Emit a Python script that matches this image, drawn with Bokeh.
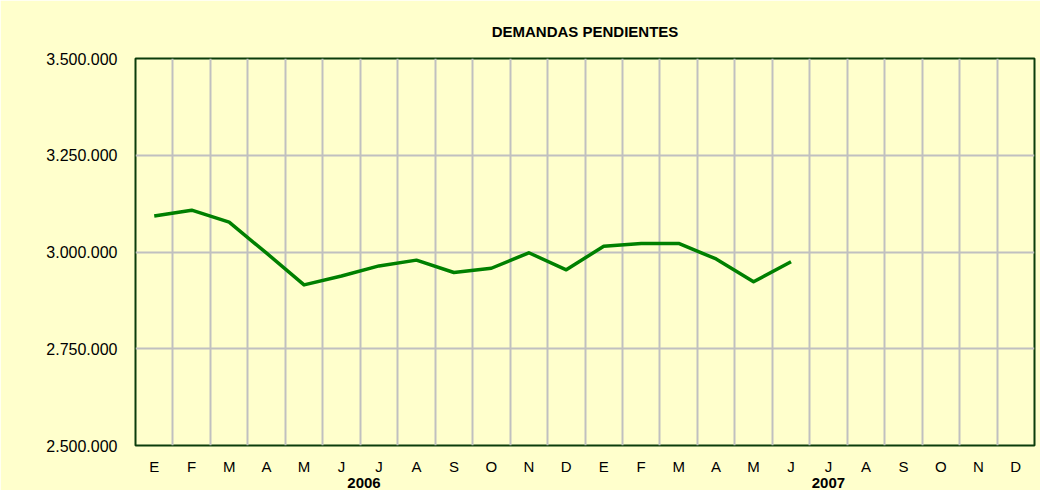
from bokeh.plotting import figure
from bokeh.models import FixedTicker, LinearAxis, Range1d
from bokeh.embed import file_html
from bokeh.resources import INLINE

# ---- data ----
month_labels = ["E", "F", "M", "A", "M", "J", "J", "A", "S", "O", "N", "D",
                "E", "F", "M", "A", "M", "J", "J", "A", "S", "O", "N", "D"]
year_labels = ["2006", "2007"]
pendientes = [3093000, 3108000, 3077000, 2997000, 2915000, 2938000,
              2964000, 2979000, 2947000, 2958000, 2998000, 2954000,
              3015000, 3022000, 3022000, 2982000, 2923000, 2975000]
y_ticks = [2500000, 2750000, 3000000, 3250000, 3500000]
y_tick_labels = ["2.500.000", "2.750.000", "3.000.000", "3.250.000", "3.500.000"]
title_text = "DEMANDAS PENDIENTES"

FONT = "Liberation Sans"
BG = "#FFFFCC"

x_idx = list(range(len(pendientes)))

p = figure(width=1040, height=490, output_backend="svg", toolbar_location=None,
           x_range=Range1d(-0.5, len(month_labels) - 0.5),
           y_range=Range1d(y_ticks[0], y_ticks[-1]),
           min_border_left=135, min_border_right=6,
           min_border_top=58, min_border_bottom=44,
           title=title_text)

p.background_fill_color = BG
p.border_fill_color = BG
p.outline_line_color = "#0B3D0B"
p.outline_line_width = 2

p.title.align = "center"
p.title.text_font = FONT
p.title.text_font_size = "15px"
p.title.text_font_style = "bold"
p.title.text_color = "#000000"
p.title.standoff = 38

def style_axis(ax, size, standoff, bold=False):
    ax.axis_line_color = None
    ax.major_tick_line_color = None
    ax.minor_tick_line_color = None
    ax.major_tick_out = 0
    ax.major_tick_in = 0
    ax.minor_tick_out = 0
    ax.minor_tick_in = 0
    ax.major_label_standoff = standoff
    ax.major_label_text_font = FONT
    ax.major_label_text_font_size = size
    ax.major_label_text_color = "#000000"
    if bold:
        ax.major_label_text_font_style = "bold"

# x axis (months)
xa = p.xaxis[0]
xa.ticker = FixedTicker(ticks=list(range(len(month_labels))))
xa.major_label_overrides = {i: lab for i, lab in enumerate(month_labels)}
style_axis(xa, "15px", 12)

# year axis below
ya2 = LinearAxis(ticker=FixedTicker(ticks=[5.6, 18.0]),
                 major_label_overrides={5.6: year_labels[0], 18.0: year_labels[1]})
style_axis(ya2, "15px", 0, bold=True)
p.add_layout(ya2, "below")

# y axis
ya = p.yaxis[0]
ya.ticker = FixedTicker(ticks=y_ticks)
ya.major_label_overrides = {t: l for t, l in zip(y_ticks, y_tick_labels)}
style_axis(ya, "16px", 18)

# grids
p.xgrid.ticker = FixedTicker(ticks=[i + 0.5 for i in range(len(month_labels) - 1)])
p.xgrid.grid_line_color = "#C0C0C0"
p.xgrid.grid_line_width = 2
p.ygrid.ticker = FixedTicker(ticks=y_ticks[1:-1])
p.ygrid.grid_line_color = "#C0C0C0"
p.ygrid.grid_line_width = 2

p.line(x_idx, pendientes, line_color="#008000", line_width=3.5, line_join="round")

open("out.html", "w").write(file_html(p, INLINE))
